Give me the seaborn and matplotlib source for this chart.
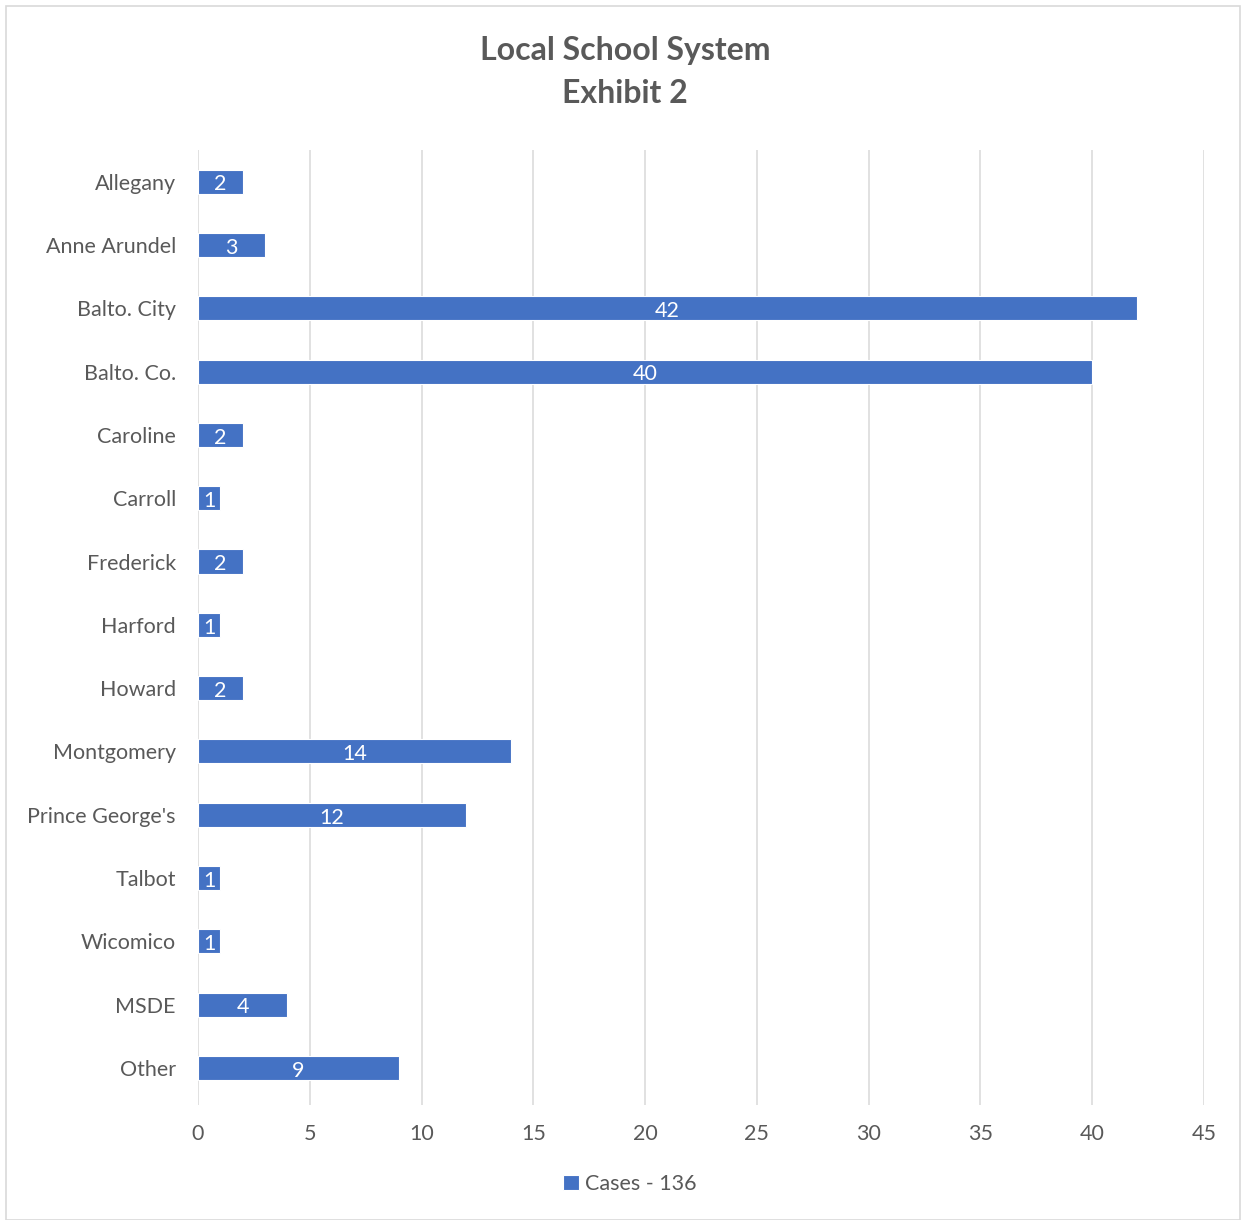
import matplotlib
matplotlib.use("Agg")
import matplotlib.pyplot as plt
import seaborn as sns
import pandas as pd
from matplotlib.patches import Rectangle

districts = ["Allegany", "Anne Arundel", "Balto. City", "Balto. Co.", "Caroline",
             "Carroll", "Frederick", "Harford", "Howard", "Montgomery",
             "Prince George's", "Talbot", "Wicomico", "MSDE", "Other"]
cases = [2, 3, 42, 40, 2, 1, 2, 1, 2, 14, 12, 1, 1, 4, 9]
series_name = "Cases - 136"
title = "Local School System\nExhibit 2"
x_ticks = [0, 5, 10, 15, 20, 25, 30, 35, 40, 45]

df = pd.DataFrame({"District": districts, "Cases": cases, "Series": series_name})

sns.set_theme(style="white")
plt.rcParams["font.family"] = ["Lato", "DejaVu Sans"]
TXT = "#595959"
BLUE = "#4472C4"
FS = 15.5

fig = plt.figure(figsize=(12.43, 12.2), dpi=100)
W, H = 1243, 1220
ax = fig.add_axes([198 / W, 1 - 1105 / H, (1204 - 198) / W, (1105 - 150) / H])

sns.barplot(data=df, x="Cases", y="District", hue="Series", palette=[BLUE],
            saturation=1, width=0.38, edgecolor="white", linewidth=0.8, ax=ax,
            legend=True, zorder=3)

for c in ax.containers:
    texts = ax.bar_label(c, label_type="center", color="white", fontsize=FS)
    for t in texts:
        t.xyann = (0, -2)

ax.set_xlim(0, 45)
ax.set_ylim(len(districts) - 0.5 + 0.085, -0.5)
ax.set_xticks(x_ticks)
ax.xaxis.grid(True, color="#D9D9D9", linewidth=1.1, zorder=0)
ax.set_axisbelow(True)
for s in ax.spines.values():
    s.set_visible(False)
ax.tick_params(axis="both", length=0, colors=TXT, labelsize=FS)
ax.tick_params(axis="x", pad=14)
ax.tick_params(axis="y", pad=16)
ax.set_xlabel("")
ax.set_ylabel("")

leg = ax.get_legend()
handles, labels = ax.get_legend_handles_labels()
if leg is not None:
    leg.remove()
fig.legend(handles, labels, loc="center", bbox_to_anchor=(630 / W, 1 - 1184 / H),
           frameon=False, fontsize=FS, handlelength=0.7, handleheight=0.7,
           handletextpad=0.3, labelcolor=TXT)

fig.text(625 / W, 1 - 72 / H, title, ha="center", va="center", fontsize=23,
         fontweight="bold", color=TXT, linespacing=1.55)

fig.patches.append(Rectangle((6 / W, 0), (1240 - 6) / W, 1 - 6 / H,
                             transform=fig.transFigure, fill=False,
                             edgecolor="#D9D9D9", linewidth=1.2))

fig.savefig("out.png", dpi=100)
